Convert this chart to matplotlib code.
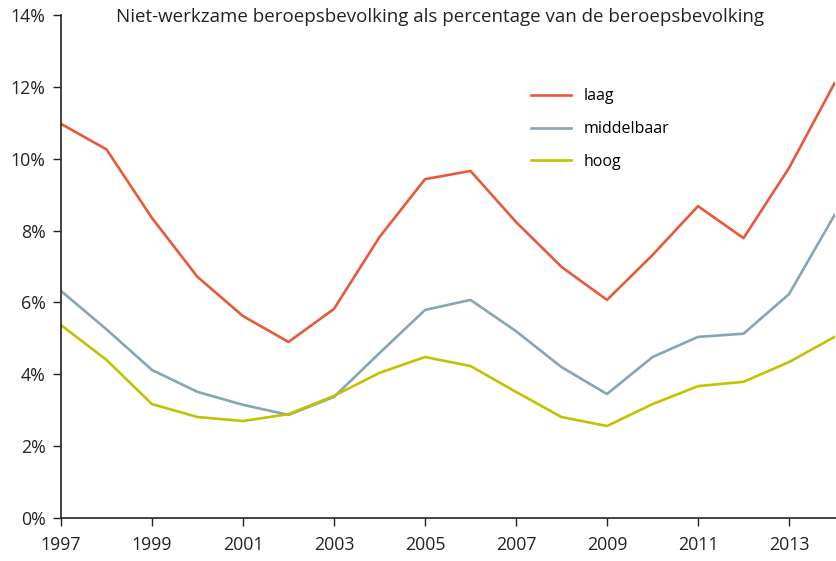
import matplotlib.pyplot as plt
from matplotlib.ticker import FuncFormatter

plt.rcParams['font.family'] = ['Open Sans', 'DejaVu Sans']

years = list(range(1997, 2015))
laag = [10.97, 10.26, 8.35, 6.71, 5.62, 4.90, 5.82, 7.82, 9.43, 9.66,
        8.24, 6.99, 6.07, 7.32, 8.68, 7.79, 9.74, 12.1]
middelbaar = [6.32, 5.25, 4.12, 3.51, 3.15, 2.87, 3.37, 4.59, 5.79, 6.07,
              5.20, 4.20, 3.45, 4.48, 5.04, 5.13, 6.23, 8.43]
hoog = [5.37, 4.40, 3.17, 2.81, 2.70, 2.89, 3.40, 4.04, 4.48, 4.23,
        3.51, 2.81, 2.56, 3.17, 3.67, 3.79, 4.34, 5.04]

fig = plt.figure(figsize=(8.36, 5.61), dpi=100)
ax = fig.add_axes([61 / 836, 1 - 518 / 561, (834.5 - 61) / 836, (518 - 15) / 561])

ax.plot(years, laag, color='#E8593A', lw=1.9, label='laag')
ax.plot(years, middelbaar, color='#87A5B3', lw=1.9, label='middelbaar')
ax.plot(years, hoog, color='#C2C300', lw=1.9, label='hoog')

ax.set_xlim(1997, 2014)
ax.set_ylim(0, 14)
ax.set_xticks(range(1997, 2014, 2))
ax.set_yticks(range(0, 15, 2))
ax.yaxis.set_major_formatter(FuncFormatter(lambda v, p: f'{int(v)}%'))
ax.tick_params(labelsize=12.8, length=6, width=1, colors='#222222')
ax.tick_params(axis='x', pad=7)
ax.tick_params(axis='y', pad=5)
for s in ['top', 'right']:
    ax.spines[s].set_visible(False)
for s in ['left', 'bottom']:
    ax.spines[s].set_linewidth(1.2)
    ax.spines[s].set_color('#222222')
ax.spines['bottom'].set_bounds(1997, 2014.1)

fig.text(440 / 836, 1 - 17 / 561, 'Niet-werkzame beroepsbevolking als percentage van de beroepsbevolking',
         ha='center', va='center', fontsize=13.5, color='#222222')

leg = ax.legend(loc='upper left', bbox_to_anchor=(517 / 836, 1 - 74 / 561),
                bbox_transform=fig.transFigure, frameon=False, fontsize=11.5,
                handlelength=2.5, handletextpad=0.8, labelspacing=1.05)

fig.savefig('out.png', dpi=100)
